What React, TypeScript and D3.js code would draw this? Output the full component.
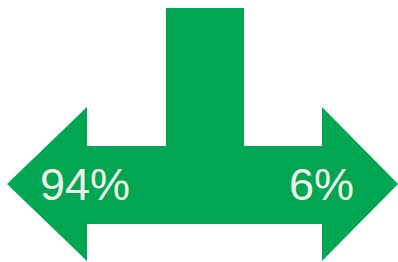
import * as d3 from "d3";

// share split shown on the two arrow heads
const sides = ["left", "right"];
const shares = [94, 6];
const labels = shares.map((v) => `${v}%`);

const W = 398;
const H = 262;
const GREEN = "#00a651";

export default function App() {
  // horizontal layout: arrow tip -> head base -> stem -> head base -> tip
  const x = d3.scaleLinear().domain([0, 1]).range([7, 398]);
  const y = d3.scaleLinear().domain([0, 1]).range([8, 261]);

  const tipL = x(0);
  const tipR = x(1);
  const headL = 87;
  const headR = 322;
  const stemL = 166;
  const stemR = 244;
  const top = y(0);
  const mid = 184;
  const barT = 146;
  const barB = 224;
  const headT = 107;
  const headB = 261;

  const pts: [number, number][] = [
    [stemL, top],
    [stemR, top],
    [stemR, barT],
    [headR, barT],
    [headR, headT],
    [tipR, mid],
    [headR, headB],
    [headR, barB],
    [headL, barB],
    [headL, headB],
    [tipL, mid],
    [headL, headT],
    [headL, barT],
    [stemL, barT],
  ];
  const line = d3.line().curve(d3.curveLinearClosed);

  const textX = d3.scaleOrdinal<string, number>().domain(sides).range([40, 289]);

  return (
    <svg
      width={W}
      height={H}
      style={{ position: "absolute", left: 0, top: 0, display: "block" }}
    >
      <path d={line(pts) ?? ""} fill={GREEN} />
      {sides.map((s, i) => (
        <text
          key={s}
          x={textX(s)}
          y={200}
          fontFamily="'Liberation Sans', Arial, sans-serif"
          fontSize={45}
          fill="#f2f2ea"
        >
          {labels[i]}
        </text>
      ))}
    </svg>
  );
}
